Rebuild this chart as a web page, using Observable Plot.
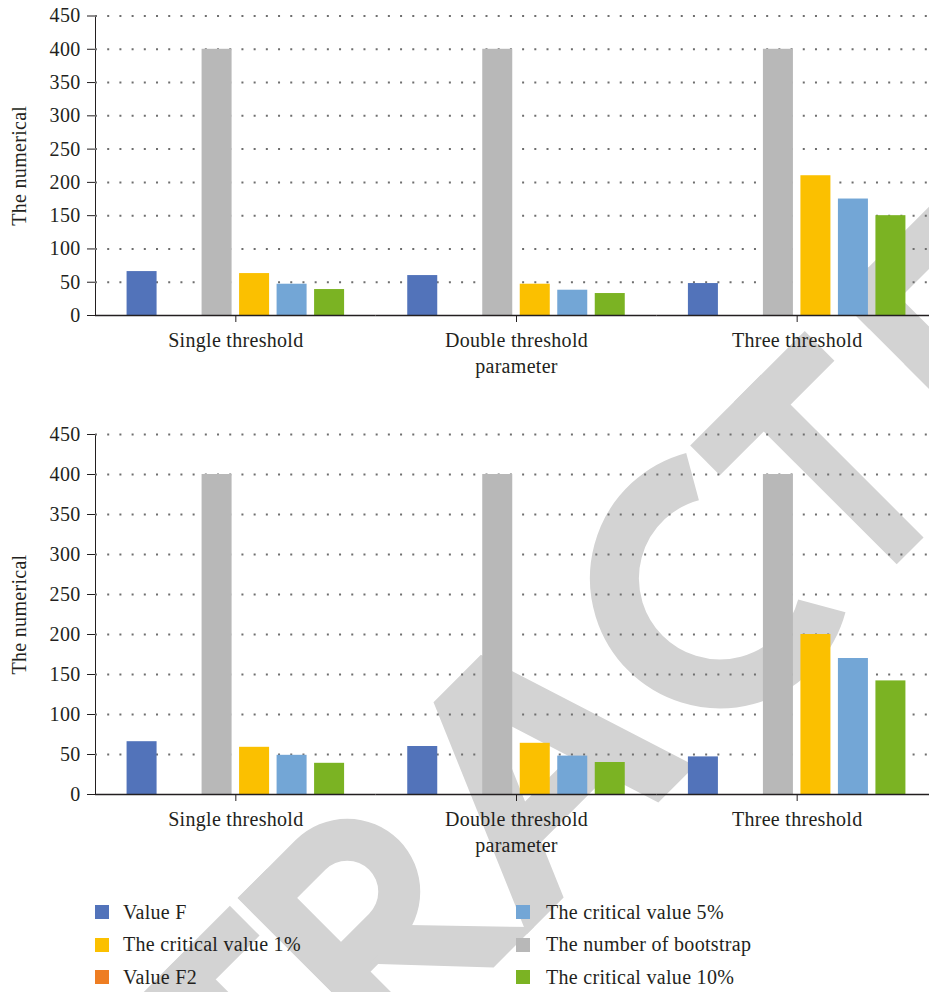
<!DOCTYPE html>
<html>
<head>
<meta charset="utf-8">
<script src="https://cdn.jsdelivr.net/npm/d3@7"></script>
<script src="https://cdn.jsdelivr.net/npm/@observablehq/plot@0.6"></script>
<style>
  html, body { margin: 0; padding: 0; background: #fff; overflow: hidden; }
  #root { position: relative; width: 929px; height: 992px; overflow: hidden;
          font-family: "Liberation Serif", "Times New Roman", Tinos, "DejaVu Serif", serif; color: #231f20; }
  .layer { position: absolute; left: 0; }
  .chartbox { position: absolute; left: 0; width: 929px; overflow: hidden; }
  .legend-item { position: absolute; display: flex; align-items: center; height: 24px;
                 font-size: 20px; letter-spacing: 0.3px; white-space: nowrap; }
  .legend-item .sw { width: 14px; height: 14px; flex: none; }
</style>
</head>
<body>
<div id="root">
  <svg id="wm" class="layer" width="929" height="992" style="top:0"></svg>
  <div id="top" class="chartbox" style="top:0"></div>
  <div id="bottom" class="chartbox" style="top:418px"></div>
  <div id="legend"></div>
</div>
<script>
// ---------------- data ----------------
const groups = ["Single threshold", "Double threshold", "Three threshold"];
const seriesNames = ["Value F", "Value F2", "The number of bootstrap",
                     "The critical value 1%", "The critical value 5%", "The critical value 10%"];
const seriesColors = ["#5273ba", "#ee7d22", "#b8b8b8", "#fbc000", "#73a6d6", "#7bb323"];
const yTicks = [0, 50, 100, 150, 200, 250, 300, 350, 400, 450];
const gridTicks = [50, 100, 150, 200, 250, 300, 350, 400, 450];
const yLabel = "The numerical";
const xLabel = "parameter";

// top panel (values per group: Single, Double, Three)
const topValueF     = [66, 60, 48];
const topValueF2    = [0, 0, 0];
const topBootstrap  = [400, 400, 400];
const topCrit1      = [63, 47, 210];
const topCrit5      = [47, 38, 175];
const topCrit10     = [39, 33, 150];

// bottom panel
const botValueF     = [66, 60, 47];
const botValueF2    = [0, 0, 0];
const botBootstrap  = [400, 400, 400];
const botCrit1      = [59, 64, 200];
const botCrit5      = [49, 48, 170];
const botCrit10     = [39, 40, 142];

const legendLeft  = ["Value F", "The critical value 1%", "Value F2"];
const legendRight = ["The critical value 5%", "The number of bootstrap", "The critical value 10%"];

// ---------------- charts ----------------
const FONT = '"Liberation Serif", "Times New Roman", Tinos, "DejaVu Serif", serif';
const PLOT_W = 937, ML = 95;
const facetW = (PLOT_W - ML) / groups.length;
const dotPeriod = facetW / Math.round(facetW / 12);

function panel(seriesValues, dims) {
  const data = [];
  groups.forEach((g, gi) => seriesNames.forEach((s, si) => {
    data.push({group: g, series: s, value: seriesValues[si][gi]});
  }));
  return Plot.plot({
    width: PLOT_W,
    height: dims.height,
    marginLeft: ML,
    marginRight: 0,
    marginTop: dims.marginTop,
    marginBottom: dims.marginBottom,
    style: {background: "transparent", fontFamily: FONT, fontSize: "20px",
            color: "#231f20", maxWidth: "none", overflow: "visible", letterSpacing: "0.3px"},
    fx: {domain: groups, padding: 0, round: false, axis: "bottom", label: null, tickSize: 7, tickPadding: 10},
    x: {domain: seriesNames, paddingInner: 0.2, paddingOuter: 0.842, round: false, axis: null},
    y: {domain: [0, 450], ticks: yTicks, tickSize: 8, tickPadding: 7, label: null, line: true},
    color: {domain: seriesNames, range: seriesColors},
    marks: [
      Plot.ruleY(gridTicks, {stroke: "#6e6e6e", strokeWidth: 2,
                             strokeDasharray: `2,${(dotPeriod - 2).toFixed(3)}`}),
      Plot.barY(data, {fx: "group", x: "series", y: "value", fill: "series"}),
      Plot.ruleY([0], {stroke: "#231f20", strokeWidth: 1.4}),
      Plot.text([yLabel], {text: d => d, frameAnchor: "left", textAnchor: "middle", rotate: -90, dx: -76,
                           facet: "super", fill: "#231f20"}),
      Plot.text([xLabel], {text: d => d, frameAnchor: "bottom", textAnchor: "middle", dy: 57,
                           facet: "super", fill: "#231f20"})
    ]
  });
}

document.getElementById("top").appendChild(panel(
  [topValueF, topValueF2, topBootstrap, topCrit1, topCrit5, topCrit10],
  {height: 390, marginTop: 15.5, marginBottom: 75}));
document.getElementById("bottom").appendChild(panel(
  [botValueF, botValueF2, botBootstrap, botCrit1, botCrit5, botCrit10],
  {height: 452, marginTop: 16, marginBottom: 76}));

// ---------------- legend ----------------
const legend = document.getElementById("legend");
const rowCenters = [912, 944.5, 977];
function addItem(name, left, gap, row) {
  const div = document.createElement("div");
  div.className = "legend-item";
  div.style.left = left + "px";
  div.style.top = (rowCenters[row] - 12) + "px";
  const sw = document.createElement("span");
  sw.className = "sw";
  sw.style.background = seriesColors[seriesNames.indexOf(name)];
  sw.style.marginRight = gap + "px";
  div.appendChild(sw);
  div.appendChild(document.createTextNode(name));
  legend.appendChild(div);
}
legendLeft.forEach((n, i) => addItem(n, 95, 14, i));
legendRight.forEach((n, i) => addItem(n, 516, 16, i));

// ---------------- watermark (decoration) ----------------
const ns = "http://www.w3.org/2000/svg";
const wm = document.getElementById("wm");
const g = document.createElementNS(ns, "g");
g.setAttribute("transform", "translate(730.5,730.5) rotate(-45)");
g.setAttribute("fill", "#d3d3d3");
wm.appendChild(g);
function rect(x, y, w, h) {
  const r = document.createElementNS(ns, "rect");
  r.setAttribute("x", x); r.setAttribute("y", y); r.setAttribute("width", w); r.setAttribute("height", h);
  g.appendChild(r);
}
function path(d, attrs) {
  const p = document.createElementNS(ns, "path");
  p.setAttribute("d", d);
  for (const k in (attrs || {})) p.setAttribute(k, attrs[k]);
  g.appendChild(p);
}
// T
rect(-640, -230, 162, 42); rect(-578, -230, 38, 230);
// R
rect(-467, -230, 42, 230);
path("M-467,-230 H-385 A73,73 0 0 1 -385,-84 H-467 Z M-425,-188 H-385 A31,31 0 0 1 -385,-126 H-425 Z",
     {"fill-rule": "evenodd"});
path("M-420,-90 L-365,-90 L-278,0 L-335,0 Z");
// A
path("M-288,0 L-190,-230 L-123,-230 L-50,0 L-102,0 L-119.4,-55 L-212.6,-55 L-236,0 Z M-159,-180 L-132,-95 L-195.5,-95 Z",
     {"fill-rule": "evenodd"});
// C
path("M152.75,-206.4 A105.5,105.5 0 1 0 152.75,-23.6", {fill: "none", stroke: "#d3d3d3", "stroke-width": 49});
// T
rect(173, -230, 162, 42); rect(235, -230, 38, 230);
// E
rect(382, -230, 44, 230); rect(382, -230, 158, 44); rect(382, -136, 143, 40); rect(382, -44, 163, 44);
</script>
</body>
</html>
